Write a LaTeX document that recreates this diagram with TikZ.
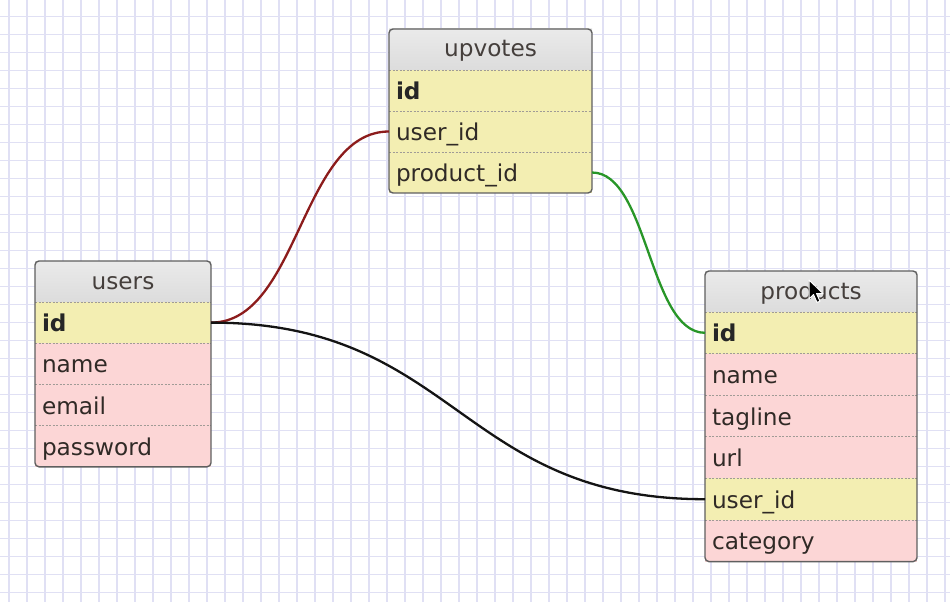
\documentclass[tikz,border=0pt]{standalone}
\usepackage{fontspec}
\setmainfont{DejaVu Sans}
\usetikzlibrary{fit,backgrounds,positioning}

\definecolor{gridc}{RGB}{224,224,244}
\definecolor{hdrtop}{RGB}{234,234,234}
\definecolor{hdrbot}{RGB}{220,220,220}
\definecolor{keyrow}{RGB}{243,238,178}
\definecolor{fieldrow}{RGB}{252,214,214}
\definecolor{framec}{RGB}{95,95,95}
\definecolor{sepc}{RGB}{160,155,150}
\definecolor{linkred}{RGB}{140,28,28}
\definecolor{linkgreen}{RGB}{40,150,40}
\definecolor{linkblack}{RGB}{20,20,20}
\definecolor{txt}{RGB}{48,42,38}

\begin{document}
\begin{tikzpicture}[x=1pt,y=-1pt,
  every node/.style={font=\fontsize{23.2}{27}\selectfont, text=txt, outer sep=0pt},
  tblhead/.style={anchor=north west, minimum height=41pt, inner sep=0pt,
    text height=18pt, text depth=3pt,
    top color=hdrtop, bottom color=hdrbot, text=txt!90},
  cell/.style={inner xsep=7pt, inner ysep=0pt, align=left,
    text height=20pt, text depth=2pt},
  keycell/.style={cell, fill=keyrow},
  fieldcell/.style={cell, fill=fieldrow},
  frame/.style={draw=framec, line width=1.4pt, rounded corners=4pt, inner sep=0pt},
  sep/.style={sepc, line width=0.8pt, dash pattern=on 2pt off 1.5pt},
  link/.style={line width=2.3pt},
  usrow/.style={below=0pt of #1, text width=162pt, minimum height=41.2pt},
  uprow/.style={below=0pt of #1, text width=189pt, minimum height=41pt},
  prrow/.style={below=0pt of #1, text width=198pt, minimum height=41.6pt}
]
% paper and grid
\fill[white] (0,0) rectangle (950,602);
\useasboundingbox (0,0) rectangle (950,602);
\foreach \i in {0,...,52}
  \draw[gridc, line width=1.3pt] (9+18*\i,0) -- (9+18*\i,602);
\foreach \j in {0,...,32}
  \draw[gridc, line width=1.3pt] (0,16.7+18*\j) -- (950,16.7+18*\j);

% upvotes table
\node[tblhead, minimum width=203pt] (up) at (389,29) {upvotes};
\node[keycell, uprow=up] (up-id) {\bfseries\color{black!85}id};
\node[keycell, uprow=up-id] (up-uid) {user\_id};
\node[keycell, uprow=up-uid] (up-pid) {product\_id};

% users table
\node[tblhead, minimum width=176pt] (us) at (35,261) {users};
\node[keycell, usrow=us] (us-id) {\bfseries\color{black!85}id};
\node[fieldcell, usrow=us-id] (us-name) {name};
\node[fieldcell, usrow=us-name] (us-email) {email};
\node[fieldcell, usrow=us-email] (us-pw) {password};

% products table
\node[tblhead, minimum width=212pt] (pr) at (705,271) {products};
\node[keycell, prrow=pr] (pr-id) {\bfseries\color{black!85}id};
\node[fieldcell, prrow=pr-id] (pr-name) {name};
\node[fieldcell, prrow=pr-name] (pr-tag) {tagline};
\node[fieldcell, prrow=pr-tag] (pr-url) {url};
\node[keycell, prrow=pr-url] (pr-uid) {user\_id};
\node[fieldcell, prrow=pr-uid] (pr-cat) {category};

% row separators
\foreach \r in {up,up-id,up-uid,us,us-id,us-name,us-email,pr,pr-id,pr-name,pr-tag,pr-url,pr-uid}
  \draw[sep] (\r.south west) -- (\r.south east);

% frames and shadows
\node[frame, fit=(up)(up-pid)] (up-frame) {};
\node[frame, fit=(us)(us-pw)] (us-frame) {};
\node[frame, fit=(pr)(pr-cat)] (pr-frame) {};
\begin{scope}[on background layer]
  \foreach \f in {up-frame,us-frame,pr-frame} {
    \fill[black, opacity=.10, rounded corners=6pt]
      ([xshift=-1pt,yshift=-6pt]\f.south west) rectangle ([xshift=5pt,yshift=1pt]\f.north east);
    \fill[black, opacity=.17, rounded corners=5pt]
      ([xshift=1pt,yshift=-3.5pt]\f.south west) rectangle ([xshift=3pt,yshift=-1pt]\f.north east);
  }
\end{scope}

% relations
\draw[link, linkred] (us-id.east) .. controls +(88,0) and +(-88,0) .. (up-uid.west);
\draw[link, linkgreen] (up-pid.east) .. controls +(56,0) and +(-56,0) .. (pr-id.west);
\draw[link, linkblack] (us-id.east) .. controls +(245,0) and +(-245,0) .. (pr-uid.west);

% mouse pointer
\filldraw[fill=black, draw=white, line width=1pt, line join=round]
  (809,280) -- ++(0,19) -- ++(4.5,-4.5) -- ++(3.5,8) -- ++(3,-1.3)
  -- ++(-3.5,-7.7) -- ++(6.5,0) -- cycle;
\end{tikzpicture}
\end{document}
